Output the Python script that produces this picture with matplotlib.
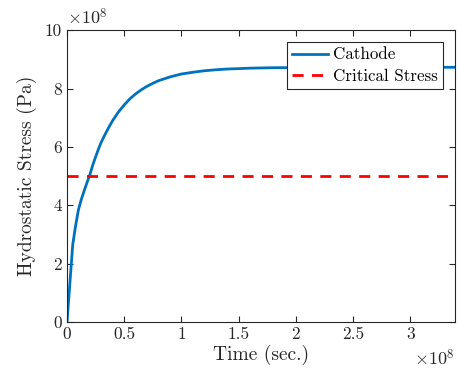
import numpy as np
import matplotlib.pyplot as plt

plt.rcParams['font.family'] = 'serif'
plt.rcParams['font.serif'] = ['cmr10']
plt.rcParams['mathtext.fontset'] = 'cm'
plt.rcParams['axes.unicode_minus'] = False

# time in units of 1e8 s, stress in units of 1e8 Pa
time_s = [0, 0.05, 0.075, 0.1, 0.125, 0.15, 0.175, 0.2, 0.225, 0.25, 0.275,
          0.3, 0.325, 0.35, 0.375, 0.4, 0.45, 0.5, 0.55, 0.6, 0.65, 0.7, 0.75,
          0.8, 0.9, 1.0, 1.1, 1.2, 1.3, 1.4, 1.6, 1.8, 2.0, 2.5, 3.0, 3.4]
cathode = [0, 2.65, 3.3, 3.85, 4.2, 4.5, 4.78, 5.05, 5.38, 5.66, 5.93,
           6.17, 6.37, 6.56, 6.74, 6.91, 7.2, 7.44, 7.65, 7.82, 7.96, 8.08,
           8.18, 8.27, 8.40, 8.50, 8.56, 8.61, 8.645, 8.67, 8.70, 8.715, 8.72,
           8.73, 8.73, 8.73]
critical = 5.0

x_ticks = [0, 0.5, 1, 1.5, 2, 2.5, 3]
x_labels = ['0', '0.5', '1', '1.5', '2', '2.5', '3']
y_ticks = [0, 2, 4, 6, 8, 10]
y_labels = ['0', '2', '4', '6', '8', '10']

fig = plt.figure(figsize=(4.59, 3.76), dpi=100)
ax = fig.add_axes([0.146, 0.1436, 0.845, 0.776])

ax.plot(time_s, cathode, color='#0072BD', linewidth=2, label='Cathode')
ax.axhline(critical, color='red', linestyle='--', linewidth=2,
           dashes=(4, 3), label='Critical Stress')

ax.set_xlim(0, 3.39)
ax.set_ylim(0, 10)
ax.set_xticks(x_ticks)
ax.set_xticklabels(x_labels)
ax.set_yticks(y_ticks)
ax.set_yticklabels(y_labels)

ax.tick_params(direction='in', top=True, right=True, length=4,
               width=0.8, colors='#262626', labelsize=12.5, labelcolor='#262626')
for sp in ax.spines.values():
    sp.set_color('#262626')
    sp.set_linewidth(0.8)

ax.set_xlabel('Time (sec.)', fontsize=14, color='#262626', labelpad=2)
ax.set_ylabel('Hydrostatic Stress (Pa)', fontsize=14, color='#262626', labelpad=6)

# exponent labels like MATLAB
ax.text(0.0, 1.01, r'$\times10^{8}$', transform=ax.transAxes, fontsize=13,
        ha='left', va='bottom', color='#262626')
ax.text(1.0, -0.09, r'$\times10^{8}$', transform=ax.transAxes, fontsize=13,
        ha='right', va='top', color='#262626')

leg = ax.legend(loc='upper right', fontsize=12.2, fancybox=False, framealpha=1,
                edgecolor='#262626', handlelength=2.1, handletextpad=0.3,
                borderpad=0.3, labelspacing=0.35, borderaxespad=0.7)
leg.get_frame().set_linewidth(0.8)

fig.savefig('out.png', dpi=100)
